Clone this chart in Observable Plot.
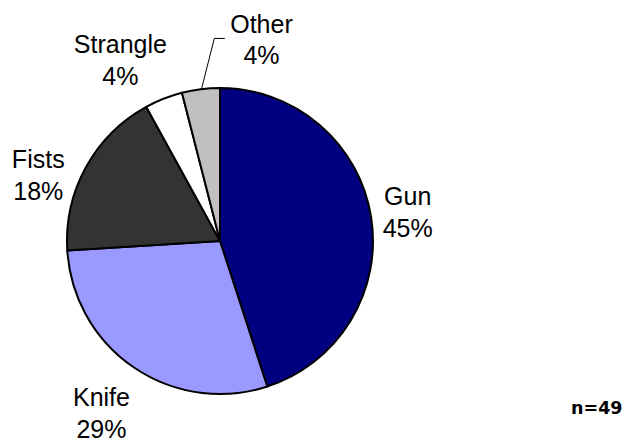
<!DOCTYPE html>
<html><head><meta charset="utf-8">
<script src="https://cdn.jsdelivr.net/npm/d3@7"></script>
<script src="https://cdn.jsdelivr.net/npm/@observablehq/plot@0.6"></script>
<style>body{margin:0;background:#fff} #chart{width:627px;height:442px}</style>
</head><body><div id="chart"></div>
<script>
// ---- data ----
const categories = ["Gun", "Knife", "Fists", "Strangle", "Other"];
const percents = [45, 29, 18, 4, 4];
const sampleNote = "n=49";

// ---- styles / layout ----
const colors = {Gun: "#000080", Knife: "#9999FF", Fists: "#333333", Strangle: "#FFFFFF", Other: "#C0C0C0"};
// label distance (in radii) and angle nudge (degrees) from slice mid-angle
const labelLayout = {
  Gun: {k: 1.24, da: -0.4},
  Knife: {k: 1.36, da: 0.7},
  Fists: {k: 1.27, da: -8.5},
  Strangle: {k: 1.363, da: -7.1},
  Other: {k: 1.354, da: 18.6}
};

const rows = categories.map((c, i) => ({category: c, value: percents[i]}));
const arcs = d3.pie().sort(null).value(d => d.value)(rows);
const rad = Math.PI / 180;
const labels = arcs.map(a => {
  const mid = (a.startAngle + a.endAngle) / 2;
  const L = labelLayout[a.data.category];
  const ang = mid + L.da * rad;
  return {
    category: a.data.category,
    text: `${a.data.category}\n${a.data.value}%`,
    x: L.k * Math.sin(ang),
    y: L.k * Math.cos(ang),
    mid
  };
});

// leader line for "Other"
const other = labels.find(d => d.category === "Other");
const leader = [
  {x: Math.sin(other.mid), y: Math.cos(other.mid)},
  {x: other.x - 0.308, y: other.y},
  {x: other.x - 0.242, y: other.y}
];

function pieMark(index, scales) {
  const cx = scales.x(0), cy = scales.y(0), r = scales.x(1) - cx;
  const g = d3.create("svg:g").attr("transform", `translate(${cx},${cy})`);
  const arc = d3.arc().innerRadius(0).outerRadius(r);
  g.selectAll("path").data(arcs).join("path")
    .attr("d", arc)
    .attr("fill", d => colors[d.data.category])
    .attr("stroke", "#000")
    .attr("stroke-width", 2)
    .attr("stroke-linejoin", "round");
  return g.node();
}

const chart = Plot.plot({
  width: 627,
  height: 442,
  margin: 0,
  x: {domain: [-1, 1], range: [67, 373], axis: null},
  y: {domain: [-1, 1], range: [394, 88], axis: null},
  style: {fontFamily: "'Liberation Sans', Arial, sans-serif", background: "#fff"},
  marks: [
    pieMark,
    Plot.line(leader, {x: "x", y: "y", stroke: "#000", strokeWidth: 1}),
    Plot.text(labels, {x: "x", y: "y", text: "text", fontSize: 25, lineHeight: 1.27, fill: "#000", textAnchor: "middle"}),
    Plot.text([sampleNote], {frameAnchor: "right", text: d => d, textAnchor: "end", dx: -5, dy: 187, fontSize: 17.5, fontWeight: "bold", fontFamily: "'DejaVu Sans', Verdana, sans-serif", fill: "#000"})
  ]
});
document.getElementById("chart").appendChild(chart);
</script>
</body></html>
